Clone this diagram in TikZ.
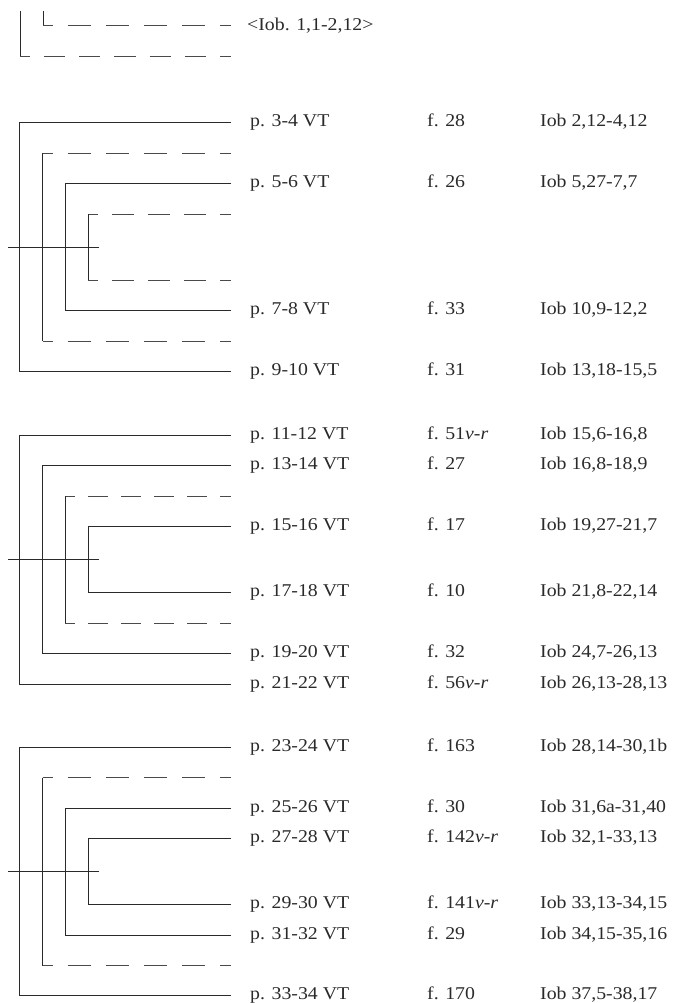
\documentclass[tikz,border=0pt]{standalone}
\usepackage{fontspec}
\setmainfont[FakeStretch=1.1]{Liberation Serif}
\definecolor{ink}{HTML}{2A2A2A}
\definecolor{dink}{HTML}{4A4A4A}
% dashed horizontal line from a corner (#1, at x=#2) to its right end (#3):
% short dash at the corner, short dash at the right end, even dashes between
\newcommand\dhl[3]{%
  \pgfmathsetmacro\bkL{231-#2}%
  \pgfmathsetmacro\bkK{round((\bkL-21+22)/(1.65*22))}%
  \pgfmathsetmacro\bkD{(\bkL-21)/(1.65*\bkK-1)}%
  \pgfmathsetmacro\bkG{0.65*\bkD}%
  \pgfmathsetmacro\bkP{\bkD-10}%
  \draw[dsh,dash pattern=on \bkD pt off \bkG pt,dash phase=\bkP pt] (#1) -- (#3);}
\newcommand\sbrk[4]{% name, x, ytop, ybot : solid bracket
  \coordinate (#1t) at (#2,#3);
  \coordinate (#1b) at (#2,#4);
  \coordinate (#1te) at (231,#3);
  \coordinate (#1be) at (231,#4);
  \draw[br] (#1te) -- (#1t) -- (#1b) -- (#1be);}
\newcommand\dbrk[4]{% name, x, ytop, ybot : dashed bracket
  \coordinate (#1t) at (#2,#3);
  \coordinate (#1b) at (#2,#4);
  \coordinate (#1te) at (231,#3);
  \coordinate (#1be) at (231,#4);
  \dhl{#1t}{#2}{#1te}
  \draw[br] (#1t) -- (#1b);
  \dhl{#1b}{#2}{#1be}}
\newcommand\entry[5]{% name, y, p, f, iob
  \node[lbl] (#1p) at (250,#2+4) {#3};
  \node[lbl] (#1f) at (427,#2+4) {#4};
  \node[lbl] (#1i) at (540,#2+4) {#5};}
\begin{document}
\begin{tikzpicture}[x=1pt,y=-1pt,
  br/.style={draw=ink,line width=0.9pt},
  dsh/.style={draw=dink,line width=0.9pt},
  stem/.style={draw=ink,line width=0.9pt},
  lbl/.style={anchor=base west,inner sep=0pt,text=ink,font=\fontsize{18}{20}\selectfont}]
\useasboundingbox (0,0) rectangle (672,1003);

% ---------- top fragment ----------
\coordinate (t0a) at (20,11);
\coordinate (t0b) at (20,56.5);
\coordinate (t0be) at (231,56.5);
\coordinate (t1a) at (43,11);
\coordinate (t1b) at (43,25);
\coordinate (t1be) at (231,25);
\draw[br] (t0a) -- (t0b);
\dhl{t0b}{20}{t0be}
\draw[br] (t1a) -- (t1b);
\dhl{t1b}{43}{t1be}
\node[lbl] (top) at (247,30.5) {<Iob. 1,1-2,12>};

% ---------- group 1 ----------
\sbrk{ga1}{19.5}{122.9}{371.9}
\dbrk{ga2}{42.5}{153.4}{341.4}
\sbrk{ga3}{65}{183.9}{310.9}
\dbrk{ga4}{88}{214.1}{280.7}
\coordinate (gasL) at (8,247.4);
\coordinate (gasR) at (99,247.4);
\draw[stem] (gasL) -- (gasR);
\entry{ra1}{122.9}{p. 3-4 VT}{f. 28}{Iob 2,12-4,12}
\entry{ra2}{183.9}{p. 5-6 VT}{f. 26}{Iob 5,27-7,7}
\entry{ra3}{310.9}{p. 7-8 VT}{f. 33}{Iob 10,9-12,2}
\entry{ra4}{371.9}{p. 9-10 VT}{f. 31}{Iob 13,18-15,5}

% ---------- group 2 ----------
\sbrk{gb1}{19.5}{435.1}{684.1}
\sbrk{gb2}{42.5}{465.6}{653.6}
\dbrk{gb3}{65}{496.1}{623.1}
\sbrk{gb4}{88}{526.3}{592.9}
\coordinate (gbsL) at (8,559.6);
\coordinate (gbsR) at (99,559.6);
\draw[stem] (gbsL) -- (gbsR);
\entry{rb1}{435.1}{p. 11-12 VT}{f. 51\textit{v-r}}{Iob 15,6-16,8}
\entry{rb2}{465.6}{p. 13-14 VT}{f. 27}{Iob 16,8-18,9}
\entry{rb3}{526.3}{p. 15-16 VT}{f. 17}{Iob 19,27-21,7}
\entry{rb4}{592.9}{p. 17-18 VT}{f. 10}{Iob 21,8-22,14}
\entry{rb5}{653.6}{p. 19-20 VT}{f. 32}{Iob 24,7-26,13}
\entry{rb6}{684.1}{p. 21-22 VT}{f. 56\textit{v-r}}{Iob 26,13-28,13}

% ---------- group 3 ----------
\sbrk{gc1}{19.5}{747.3}{995.9}
\dbrk{gc2}{42.5}{777.7}{965.7}
\sbrk{gc3}{65}{808.3}{935.1}
\sbrk{gc4}{88}{838.4}{904.6}
\coordinate (gcsL) at (8,871.7);
\coordinate (gcsR) at (99,871.7);
\draw[stem] (gcsL) -- (gcsR);
\entry{rc1}{747.3}{p. 23-24 VT}{f. 163}{Iob 28,14-30,1b}
\entry{rc2}{808.3}{p. 25-26 VT}{f. 30}{Iob 31,6a-31,40}
\entry{rc3}{838.4}{p. 27-28 VT}{f. 142\textit{v-r}}{Iob 32,1-33,13}
\entry{rc4}{904.6}{p. 29-30 VT}{f. 141\textit{v-r}}{Iob 33,13-34,15}
\entry{rc5}{935.1}{p. 31-32 VT}{f. 29}{Iob 34,15-35,16}
\entry{rc6}{995.9}{p. 33-34 VT}{f. 170}{Iob 37,5-38,17}
\end{tikzpicture}
\end{document}
